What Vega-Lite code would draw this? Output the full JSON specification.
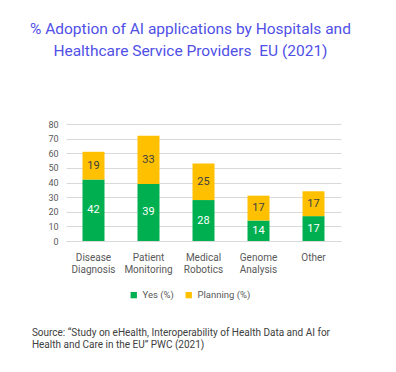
{
  "$schema": "https://vega.github.io/schema/vega-lite/v6.json",
  "padding": {"left": 29, "top": 21, "right": 5, "bottom": 5},
  "background": "white",
  "title": {
    "text": ["% Adoption of AI applications by Hospitals and", "Healthcare Service Providers\u00a0 EU (2021)"],
    "font": "Roboto",
    "fontSize": 15.5,
    "fontWeight": "normal",
    "color": "#5050E6",
    "lineHeight": 22,
    "anchor": "middle",
    "dx": 4,
    "offset": 61
  },
  "data": {
    "values": [
      {"category": "Disease Diagnosis", "series": "Yes (%)", "value": 42},
      {"category": "Disease Diagnosis", "series": "Planning (%)", "value": 19},
      {"category": "Patient Monitoring", "series": "Yes (%)", "value": 39},
      {"category": "Patient Monitoring", "series": "Planning (%)", "value": 33},
      {"category": "Medical Robotics", "series": "Yes (%)", "value": 28},
      {"category": "Medical Robotics", "series": "Planning (%)", "value": 25},
      {"category": "Genome Analysis", "series": "Yes (%)", "value": 14},
      {"category": "Genome Analysis", "series": "Planning (%)", "value": 17},
      {"category": "Other", "series": "Yes (%)", "value": 17},
      {"category": "Other", "series": "Planning (%)", "value": 17}
    ]
  },
  "vconcat": [
    {
      "width": 275,
      "height": 117,
      "title": {
        "text": ["Source: \u201cStudy on eHealth, Interoperability of Health Data and AI for", "Health and Care in the EU\u201d PWC (2021)"],
        "orient": "bottom",
        "anchor": "start",
        "frame": "bounds",
        "font": "Roboto",
        "fontSize": 10,
        "fontWeight": "normal",
        "color": "#404040",
        "lineHeight": 12,
        "offset": 28,
        "dx": -16
      },
      "encoding": {
        "x": {
          "field": "category",
          "type": "nominal",
          "sort": null,
          "scale": {"paddingInner": 0.6, "paddingOuter": 0.3},
          "axis": {
            "title": null,
            "labelAngle": 0,
            "labelExpr": "split(datum.label, ' ')",
            "labelFont": "Roboto",
            "labelFontSize": 10,
            "labelColor": "#595959",
            "labelLineHeight": 12,
            "labelPadding": 11,
            "ticks": false,
            "domainColor": "#D9D9D9"
          }
        },
        "y": {
          "field": "value",
          "type": "quantitative",
          "stack": "zero",
          "scale": {"domain": [0, 80]},
          "axis": {
            "title": null,
            "values": [0, 10, 20, 30, 40, 50, 60, 70, 80],
            "labelFont": "Roboto",
            "labelFontSize": 9,
            "labelColor": "#595959",
            "labelPadding": 8,
            "ticks": false,
            "domain": false,
            "gridColor": "#D9D9D9"
          }
        },
        "order": {"field": "series", "sort": "descending"}
      },
      "layer": [
        {
          "mark": {"type": "bar"},
          "encoding": {
            "color": {
              "field": "series",
              "type": "nominal",
              "scale": {"domain": ["Yes (%)", "Planning (%)"], "range": ["#00B050", "#FFC000"]},
              "legend": {
                "title": null,
                "orient": "none",
                "legendX": 63,
                "legendY": 166,
                "direction": "horizontal",
                "symbolType": "square",
                "symbolSize": 40,
                "symbolStrokeWidth": 0,
                "labelFont": "Roboto",
                "labelFontSize": 9.5,
                "labelColor": "#595959",
                "columnPadding": 10
              }
            }
          }
        },
        {
          "mark": {"type": "text", "font": "Roboto", "fontSize": 11, "baseline": "middle"},
          "encoding": {
            "y": {"field": "value", "type": "quantitative", "stack": "zero", "bandPosition": 0.5},
            "text": {"field": "value", "type": "quantitative"},
            "color": {
              "field": "series",
              "type": "nominal",
              "scale": {"domain": ["Yes (%)", "Planning (%)"], "range": ["#FFFFFF", "#404040"]},
              "legend": null
            }
          }
        }
      ],
      "resolve": {"scale": {"color": "independent"}}
    }
  ],
  "config": {
    "view": {"stroke": null},
    "font": "Roboto"
  }
}
